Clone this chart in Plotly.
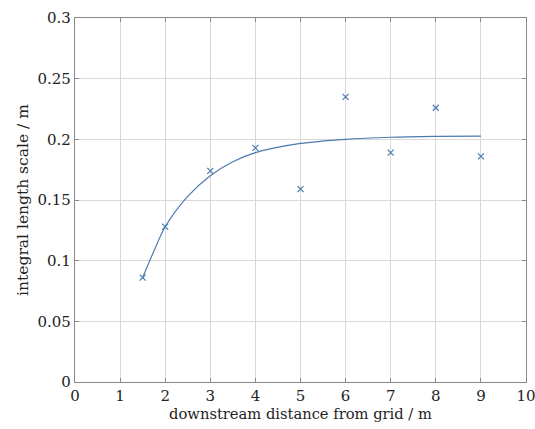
import plotly.graph_objects as go

# Measured integral length scale at each downstream station
distance_m = [1.5, 2, 3, 4, 5, 6, 7, 8, 9]
length_scale_m = [0.086, 0.128, 0.174, 0.193, 0.159, 0.235, 0.189, 0.226, 0.186]

# Fitted decay curve, sampled along the measured range
fit_x = [1.5, 1.75, 2, 2.5, 3, 3.5, 4, 5, 6, 7, 8, 9]
fit_y = [0.086, 0.108, 0.128, 0.153, 0.170, 0.1815, 0.189, 0.1966, 0.2000, 0.2017, 0.2024, 0.2027]

x_ticks = [0, 1, 2, 3, 4, 5, 6, 7, 8, 9, 10]
y_ticks = [0, 0.05, 0.1, 0.15, 0.2, 0.25, 0.3]
y_tick_labels = ["0", "0.05", "0.1", "0.15", "0.2", "0.25", "0.3"]

blue = "#4a7ab0"
font_family = "DejaVu Serif"

fig = go.Figure()
fig.add_trace(go.Scatter(
    x=fit_x, y=fit_y, mode="lines",
    line=dict(color=blue, width=1.2, shape="spline", smoothing=0.8),
    showlegend=False, hoverinfo="skip",
))
fig.add_trace(go.Scatter(
    x=distance_m, y=length_scale_m, mode="markers",
    marker=dict(symbol="x-thin", size=6, line=dict(color=blue, width=1.2)),
    showlegend=False,
))

axis_common = dict(
    showgrid=True, gridcolor="#d9d9d9", gridwidth=1,
    showline=True, linecolor="#888888", linewidth=1.3, mirror="ticks",
    ticks="inside", ticklen=4, tickcolor="#888888",
    zeroline=False, automargin=False, ticklabeloverflow="allow",
    tickfont=dict(family=font_family, size=15, color="#222222"),
)

fig.update_layout(
    width=535, height=429,
    margin=dict(l=75, r=9, t=18, b=47),
    paper_bgcolor="white", plot_bgcolor="white",
    font=dict(family=font_family, color="#222222"),
    xaxis=dict(
        range=[0, 10], tickvals=x_ticks,
        title=dict(text="downstream distance from grid / m",
                   font=dict(family=font_family, size=14.7), standoff=4),
        **axis_common,
    ),
    yaxis=dict(
        range=[0, 0.3], tickvals=y_ticks, ticktext=y_tick_labels,
        title=dict(text="integral length scale / m",
                   font=dict(family=font_family, size=15.5), standoff=5),
        **axis_common,
    ),
)

fig.write_html("out.html")
